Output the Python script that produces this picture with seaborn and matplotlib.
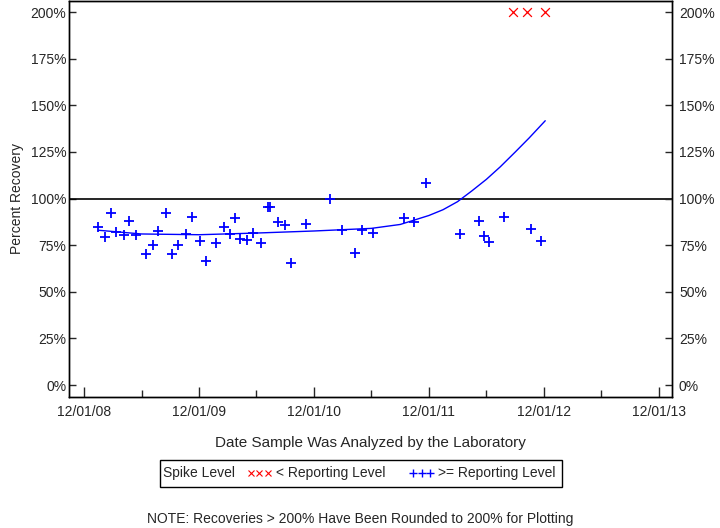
import pandas as pd
import matplotlib
matplotlib.use('Agg')
import matplotlib.pyplot as plt
import matplotlib.dates as mdates
from matplotlib.lines import Line2D
from matplotlib.patches import Rectangle
import seaborn as sns

# Data
ge_dates = ["2009-01-14", "2009-02-03", "2009-02-24", "2009-03-12", "2009-04-07",
            "2009-04-23", "2009-05-14", "2009-06-16", "2009-07-06", "2009-07-24",
            "2009-08-18", "2009-09-04", "2009-09-24", "2009-10-21", "2009-11-09",
            "2009-12-02", "2009-12-23", "2010-01-24", "2010-02-18", "2010-03-09",
            "2010-03-24", "2010-04-10", "2010-05-03", "2010-05-22", "2010-06-16",
            "2010-07-08", "2010-07-15", "2010-08-09", "2010-08-31", "2010-09-19",
            "2010-11-04", "2011-01-21", "2011-02-28", "2011-04-11", "2011-05-02",
            "2011-06-08", "2011-09-14", "2011-10-16", "2011-11-23", "2012-03-08",
            "2012-05-07", "2012-05-24", "2012-06-10", "2012-07-28", "2012-10-21",
            "2012-11-20"]
ge_recovery = [85.0, 79.2, 92.4, 82.2, 80.6, 88.1, 80.6, 70.4, 75.2, 82.4,
               92.4, 70.4, 75.0, 80.9, 90.0, 77.5, 66.5, 75.9, 85.0, 80.9,
               89.5, 78.4, 77.9, 81.7, 75.9, 95.2, 95.2, 87.3, 85.9, 65.6,
               86.3, 99.5, 82.9, 71.0, 82.9, 81.7, 89.7, 87.2, 108.3, 81.1,
               88.2, 80.1, 76.8, 90.0, 83.6, 77.0]

lt_dates = ["2012-08-26", "2012-10-09", "2012-12-05"]
lt_recovery = [200, 200, 200]

trend_dates = ["2009-01-14", "2009-06-01", "2009-12-01", "2010-06-01", "2010-12-01",
               "2011-06-01", "2011-09-01", "2011-12-01", "2012-01-15", "2012-03-01",
               "2012-04-15", "2012-06-01", "2012-07-15", "2012-09-01", "2012-10-15",
               "2012-12-05"]
trend_values = [83.0, 81.0, 80.6, 81.5, 82.6, 84.0, 86.1, 90.9, 94.0, 98.3,
                104.0, 110.3, 117.0, 125.0, 132.5, 141.7]

ytick_vals = [0, 25, 50, 75, 100, 125, 150, 175, 200]

ge = pd.DataFrame({"date": pd.to_datetime(ge_dates), "pct": ge_recovery})
lt = pd.DataFrame({"date": pd.to_datetime(lt_dates), "pct": lt_recovery})
trend = pd.DataFrame({"date": pd.to_datetime(trend_dates), "pct": trend_values})

sns.set_style("white")
plt.rcParams['font.family'] = ['Liberation Sans', 'DejaVu Sans']

fig = plt.figure(figsize=(7.2, 5.28), dpi=100)
ax = fig.add_axes([69 / 720, 1 - 397 / 528, (672 - 69) / 720, 396 / 528])

ax.axhline(100, color="black", linewidth=1.2, zorder=1)
sns.lineplot(data=trend, x="date", y="pct", color="blue", linewidth=1.0, ax=ax)
sns.scatterplot(data=ge, x="date", y="pct", marker="+", color="blue",
                s=55, linewidth=1.3, ax=ax, zorder=3)
sns.scatterplot(data=lt, x="date", y="pct", marker="x", color="red",
                s=40, linewidth=0.9, ax=ax, zorder=3)

ax.set_xlim(pd.Timestamp("2008-10-13"), pd.Timestamp("2014-01-12"))
ax.set_ylim(-6.4, 205.9)
ax.xaxis.set_major_locator(mdates.MonthLocator(bymonth=[12]))
ax.xaxis.set_minor_locator(mdates.MonthLocator(bymonth=[6]))
ax.xaxis.set_major_formatter(mdates.DateFormatter("%m/%d/%y"))
ax.set_yticks(ytick_vals)
ax.set_yticklabels([f"{v}%" for v in ytick_vals])

ax.tick_params(axis="x", which="major", direction="in", length=7, width=1,
               labelsize=10, pad=6, bottom=True)
ax.tick_params(axis="x", which="minor", direction="in", length=5, width=1,
               bottom=True)
ax.tick_params(axis="y", direction="in", length=5, width=1, labelsize=10,
               pad=2, left=True)

ax.set_xlabel("Date Sample Was Analyzed by the Laboratory", fontsize=11, labelpad=12)
ax.set_ylabel("Percent Recovery", fontsize=10, labelpad=5)

for s in ax.spines.values():
    s.set_color("black")
    s.set_linewidth(1)

ax2 = ax.twinx()
ax2.set_ylim(ax.get_ylim())
ax2.set_yticks(ytick_vals)
ax2.set_yticklabels([f"{v}%" for v in ytick_vals])
ax2.tick_params(axis="y", direction="in", length=5, width=1, labelsize=10,
                pad=5, right=True)
for s in ax2.spines.values():
    s.set_color("black")
    s.set_linewidth(1)

# legend: frame box + "Spike Level" text + two marker entries
fig.patches.append(Rectangle((160 / 720, 1 - 487 / 528), 402 / 720, 27 / 528,
                             transform=fig.transFigure, fill=False,
                             edgecolor="black", linewidth=1))
fig.text(163 / 720, 1 - 473.5 / 528, "Spike Level", ha="left", va="center",
         fontsize=10)
handles = [
    Line2D([], [], linestyle="none", marker="x", color="red", markersize=5,
           markeredgewidth=0.8),
    Line2D([], [], linestyle="none", marker="+", color="blue", markersize=6,
           markeredgewidth=1.0),
]
labels = ["< Reporting Level", ">= Reporting Level"]
fig.legend(handles, labels, ncol=2, numpoints=3, loc="center left",
           bbox_to_anchor=(244 / 720, 1 - 473.5 / 528), frameon=False,
           fontsize=10, handlelength=1.8, handletextpad=0.3,
           columnspacing=1.7, borderpad=0.2, borderaxespad=0)

fig.text(360 / 720, 1 - 519 / 528,
         "NOTE: Recoveries > 200% Have Been Rounded to 200% for Plotting",
         ha="center", va="center", fontsize=10)

fig.savefig("out.png", dpi=100)
plt.close(fig)
